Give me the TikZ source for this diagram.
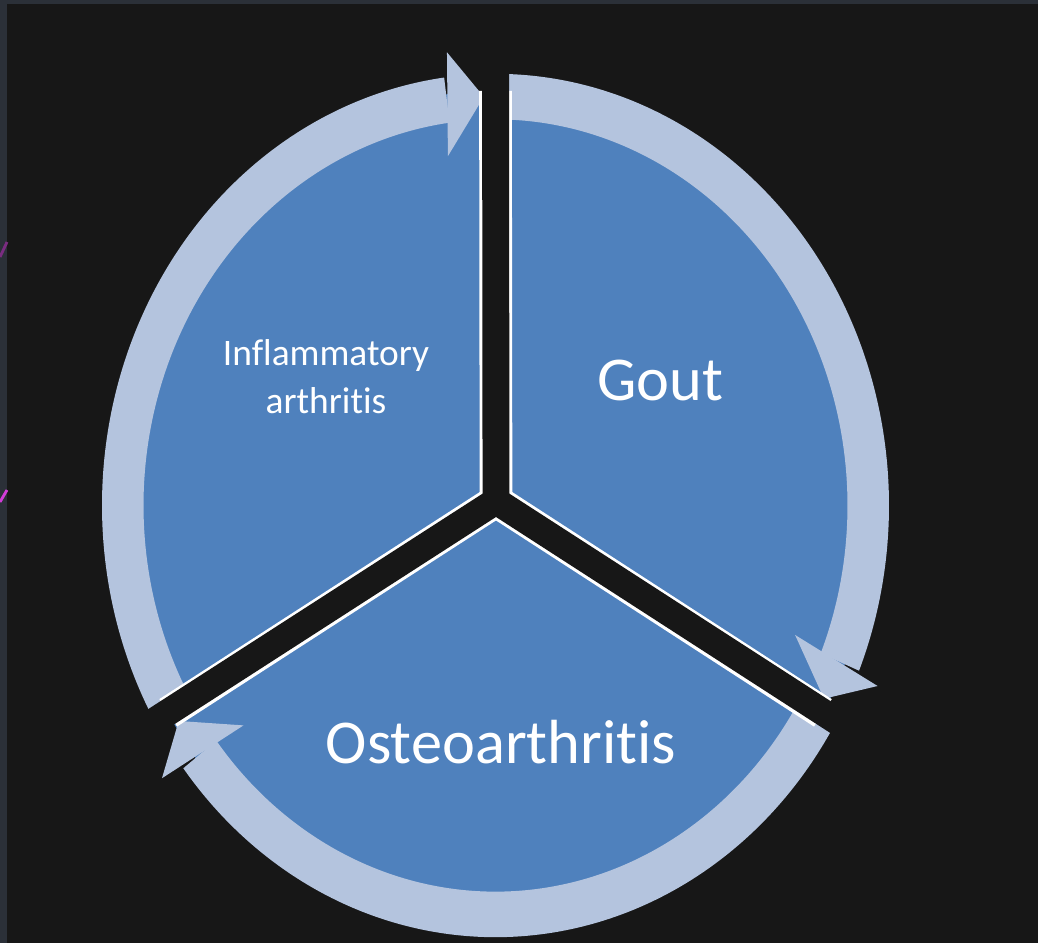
\documentclass[tikz,border=0pt]{standalone}
\usepackage{fontspec}
\setmainfont[Ligatures=NoCommon]{Carlito}
\definecolor{Slide_Frame}{HTML}{2B3038}
\definecolor{Slide_Dark}{HTML}{171717}
\definecolor{Slide_Purple}{HTML}{7A2C80}
\definecolor{Slide_Magenta}{HTML}{D23CD8}
\definecolor{Cycle_Blue}{HTML}{4F81BD}
\definecolor{Cycle_Light}{HTML}{B4C4DE}

\begin{document}
\begin{tikzpicture}[
    x=0.02cm, y=-0.02cm,
    ring/.style={fill=Cycle_Light},
    gapedge/.style={draw=white, line width=18.6pt},
    gapline/.style={draw=Slide_Dark, line width=15.3pt},
    seglabel/.style={text=white, inner sep=0pt}
]
\useasboundingbox (0,0) rectangle (1038,943);
\fill[Slide_Frame] (0,0) rectangle (1038,943);
\fill[Slide_Dark] (7,4) rectangle (1038,943);
\draw[Slide_Purple, line width=1.6pt] (0,257) -- (7,242);
\draw[Slide_Magenta, line width=1.6pt] (0,502) -- (7,490);
\coordinate (j) at (496,501);
\begin{scope}[shift={(495.5,505.5)}, yscale=-1.097]
    \fill[Cycle_Blue] (0,0) ellipse [x radius=378, y radius=378];
    \foreach \from/\to in {210/90, 90/-30, -30/-150} {
        \fill[ring] (\from:393.5) arc [start angle=\from, end angle=\to+7.5, radius=393.5]
            -- ({\to+7.5}:352) arc [start angle=\to+7.5, end angle=\from, radius=352] -- cycle;
        \fill[ring] ({\to+8.5}:322) -- ({\to+1.8}:372.75) -- ({\to+6.7}:416) -- cycle;
    }
    \foreach \d in {90,210,330}
        \draw[gapedge] (j) -- (\d:378);
    \foreach \d in {90,210,330}
        \draw[gapline] (j) -- (\d:440);
\end{scope}
\node[seglabel, align=center, font=\fontsize{21.3}{27.2}\selectfont] (inflam) at (326,377) {Inflammatory\\arthritis};
\node[seglabel, anchor=base, font=\fontsize{35.5}{40}\selectfont] (gout) at (660,400) {Gout};
\node[seglabel, anchor=base, font=\fontsize{35.5}{40}\selectfont] (osteo) at (501,763) {Osteoarthritis};
\end{tikzpicture}
\end{document}
